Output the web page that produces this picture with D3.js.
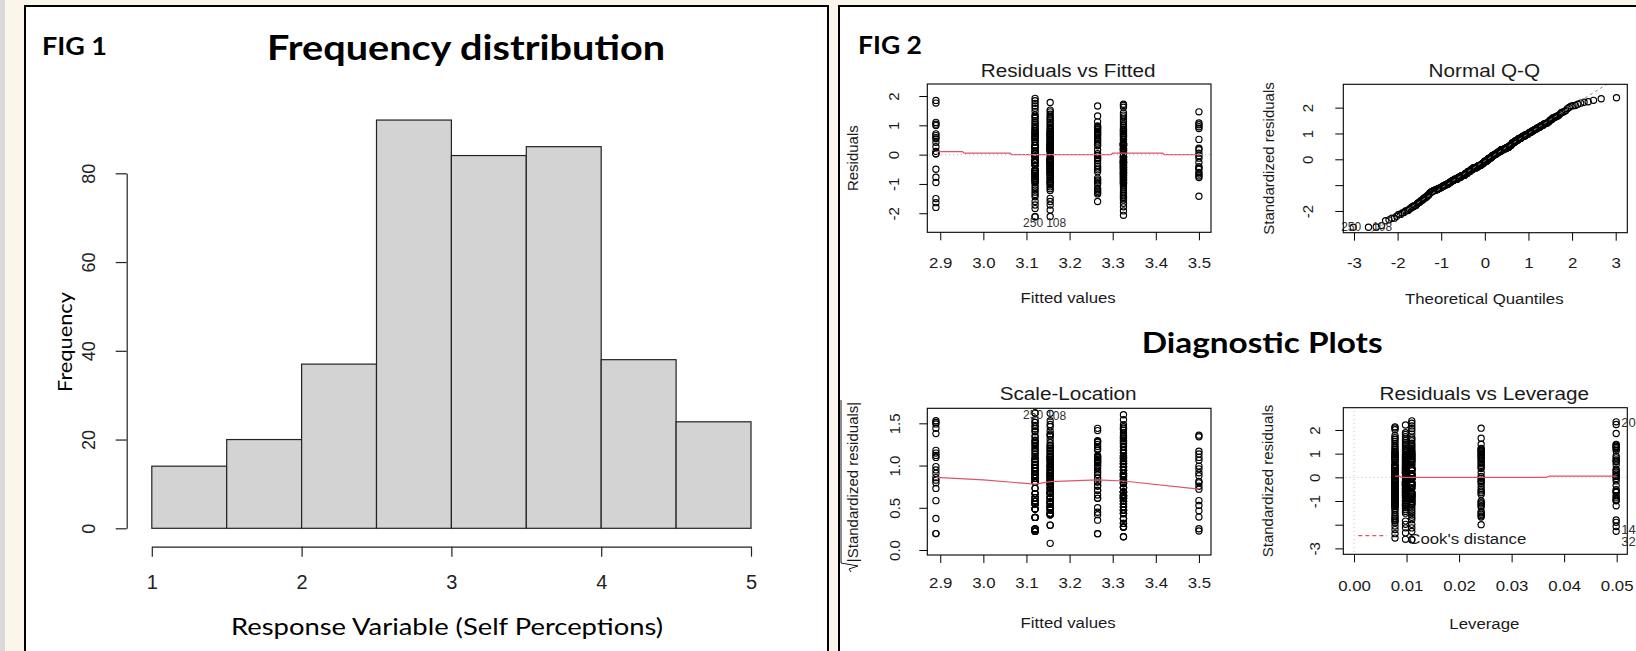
<!DOCTYPE html>
<html><head><meta charset="utf-8">
<script src="https://cdn.jsdelivr.net/npm/d3@7"></script>
<style>html,body{margin:0;padding:0;background:#fbf5ec;}svg{display:block;}</style>
</head><body>
<svg id="c" width="1636" height="651"></svg>
<script>
// ---------------- DATA ----------------
// Fig 1 histogram
const histBreaks = [1, 1.5, 2, 2.5, 3, 3.5, 4, 4.5, 5];
const histCounts = [14, 20, 37, 92, 84, 86, 38, 24];
const histXTicks = [1, 2, 3, 4, 5];
const histYTicks = [0, 20, 40, 60, 80];

// Fig 2 model: group fitted values, leverages, residual standard error
const fitted = [2.89, 3.12, 3.155, 3.265, 3.325, 3.5];
const leverage = [0.0499, 0.0110, 0.0098, 0.0242, 0.0078, 0.0499];
const sigma = 0.81;

// residuals per group as [value, count]
const resid289 = [[1.85,1],[1.76,1],[1.10,1],[1.04,1],[0.99,1],[0.71,1],[0.65,1],[0.58,1],[0.54,1],[0.42,1],[0.27,1],[0.11,1],[0.03,2],[-0.50,1],[-0.77,1],[-0.95,1],[-1.50,1],[-1.64,1],[-1.80,1]];
const resid312 = [[1.92,1],[1.84,1],[1.75,1],[1.66,1],[1.58,1],[1.47,1],[1.35,1],[1.30,1],
  [1.24,1],[1.16,1],[1.10,1],[1.04,1],[0.98,1],[0.92,1],[0.88,1],
  [0.82,2],[0.76,2],[0.70,2],[0.64,2],[0.58,2],[0.52,2],[0.43,2],
  [0.31,3],[0.24,4],[0.12,4],[0.04,5],
  [-0.05,5],[-0.19,4],[-0.27,4],
  [-0.36,3],[-0.52,3],[-0.58,3],[-0.64,3],
  [-0.70,2],[-0.76,2],[-0.82,2],[-0.88,2],[-0.94,2],
  [-1.04,1],[-1.12,1],[-1.20,1],[-1.28,1],[-1.36,1],[-1.44,1],
  [-1.60,1],[-1.72,1],[-1.84,1],[-2.12,2]];
const resid3155 = [[1.78,1],[1.52,1],[1.46,1],[1.38,1],[1.30,1],
  [1.24,1],[1.18,1],[1.12,1],[1.06,1],[1.00,1],[0.94,1],[0.89,1],
  [0.84,1],[0.78,2],[0.72,2],[0.66,2],[0.60,2],[0.54,2],[0.48,2],[0.42,2],
  [0.36,3],[0.30,3],[0.24,3],[0.18,3],[0.14,3],[0.07,1],[0.005,1],
  [-0.07,1],[-0.15,4],[-0.21,4],[-0.26,4],
  [-0.32,2],[-0.38,3],[-0.44,2],[-0.50,3],[-0.56,2],[-0.62,3],
  [-0.68,2],[-0.74,1],[-0.80,2],[-0.86,1],[-0.92,2],[-0.98,2],
  [-1.04,1],[-1.10,1],[-1.16,1],[-1.22,1],[-1.49,1],
  [-1.60,1],[-1.72,1],[-1.89,1],[-2.11,1]];
const resid3265 = [[1.66,1],[1.32,1],[1.12,1],[0.98,1],[0.95,1],[0.92,1],[0.88,1],[0.85,1],[0.80,1],[0.76,1],[0.72,1],[0.68,1],[0.64,1],[0.58,1],[0.52,1],[0.46,1],[0.40,1],[0.34,1],[0.30,1],[0.16,1],[0.03,1],[-0.03,1],[-0.10,1],[-0.14,1],[-0.20,1],[-0.30,1],[-0.40,1],[-0.46,1],[-0.52,1],[-0.58,1],[-0.80,1],[-0.86,1],[-0.90,1],[-0.96,1],[-1.00,1],[-1.15,1],[-1.20,1],[-1.25,1],[-1.30,1],[-1.34,1],[-1.60,1]];
const resid3325 = [[1.72,1],[1.68,1],[1.62,1],[1.42,1],[1.35,1],[1.29,1],
  [1.22,1],[1.14,1],[1.06,1],[1.00,1],[0.94,1],[0.88,1],
  [0.84,2],[0.78,2],[0.72,2],[0.66,2],[0.60,2],[0.52,2],[0.44,1],
  [0.38,5],[0.34,5],[0.30,5],[0.21,4],[0.15,4],[0.08,3],[0.02,2],
  [-0.06,4],[-0.11,4],[-0.18,4],[-0.24,4],[-0.27,4],
  [-0.32,4],[-0.38,4],[-0.44,4],[-0.50,4],[-0.56,4],[-0.62,4],[-0.66,3],
  [-0.72,3],[-0.78,3],[-0.84,3],[-0.90,3],[-0.96,3],[-1.00,2],
  [-1.06,1],[-1.12,1],[-1.20,1],[-1.28,1],[-1.34,1],[-1.40,1],[-1.45,1],[-1.49,1],
  [-1.55,1],[-1.66,1],[-1.78,1],[-1.92,1],[-2.07,1]];
const resid35 = [[1.46,1],[1.08,1],[1.02,1],[0.95,1],[0.89,1],[0.52,1],[0.22,1],[0.17,1],[0.05,1],[-0.04,1],[-0.12,1],[-0.27,1],[-0.41,1],[-0.45,1],[-0.50,1],[-0.61,1],[-0.66,1],[-0.73,1],[-0.78,1],[-1.42,1]];
const residGroups = [resid289, resid312, resid3155, resid3265, resid3325, resid35];

// smoother lines
const rvfSmooth = [[2.89,0.10],[2.952,0.10],[2.956,0.05],[3.062,0.05],[3.066,0.0],[3.296,0.0],[3.300,0.05],[3.416,0.05],[3.420,0.0],[3.50,0.0]];
const slSmooth = [[2.89,0.86],[3.0,0.83],[3.12,0.78],[3.155,0.81],[3.265,0.83],[3.325,0.817],[3.50,0.72]];
const rvlSmooth = [[0.0078,0.055],[0.0086,0.055],[0.0090,0.0],[0.0366,0.0],[0.0372,0.055],[0.0499,0.055]];

// labelled observations
const idLabels = [{label:"250", g:1, r:-2.12, side:"end"}, {label:"108", g:2, r:-2.11, side:"start"}];
const rvlLabels = [{label:"20", lev:0.0499, std:2.33}, {label:"14", lev:0.0499, std:-2.20}, {label:"32", lev:0.0499, std:-2.72}];

// tick values / labels
const fittedTicks = [2.9, 3.0, 3.1, 3.2, 3.3, 3.4, 3.5];
const residTicks = [-2, -1, 0, 1, 2];
const qqXTicks = [-3, -2, -1, 0, 1, 2, 3];
const qqYTicks = [-2, -1, 0, 1, 2];
const qqYLabels = ["-2", "", "0", "1", "2"];
const slYTicks = [0, 0.5, 1, 1.5];
const slYLabels = ["0.0", "0.5", "1.0", "1.5"];
const levTicks = [0, 0.01, 0.02, 0.03, 0.04, 0.05];
const rvlYTicks = [-3, -2, -1, 0, 1, 2];
const rvlYLabels = ["-3", "", "-1", "0", "1", "2"];

// ---------------- DRAWING ----------------
const svg = d3.select("#c");
const R_FONT = "'Liberation Sans', Arial, sans-serif";
const CAL = "Lato, 'Open Sans', sans-serif";
const STRETCH = 1.12;
const RED = "#DF536B";

svg.append("rect").attr("width",1636).attr("height",651).attr("fill","#fbf5ec");
svg.append("rect").attr("width",5).attr("height",651).attr("fill","#d9d9d9");
svg.append("rect").attr("x",25).attr("y",6).attr("width",803).attr("height",700).attr("fill","#fff").attr("stroke","#000").attr("stroke-width",2);
svg.append("rect").attr("x",839).attr("y",6).attr("width",900).attr("height",700).attr("fill","#fff").attr("stroke","#000").attr("stroke-width",2);

function calText(x, y, str, size, weight, len, anchor) {
  return svg.append("text").attr("x",x).attr("y",y).attr("font-family",CAL).attr("font-size",size)
    .attr("font-weight",weight).attr("fill","#000").attr("text-anchor",anchor||"start")
    .attr("textLength",len).attr("lengthAdjust","spacingAndGlyphs").text(str);
}

// ---- Fig 1 ----
calText(42, 55, "FIG 1", 25, 700, 65);
calText(267, 60, "Frequency distribution", 35, 700, 398);
calText(231, 635, "Response Variable (Self Perceptions)", 23, 400, 432);
svg.append("text").attr("transform","translate(71.5,342) rotate(-90)").attr("text-anchor","middle")
  .attr("font-family",CAL).attr("font-size",19).attr("fill","#000")
  .attr("textLength",100).attr("lengthAdjust","spacingAndGlyphs").text("Frequency");

const xH = d3.scaleLinear().domain([1,5]).range([151.8,751]);
const yH = d3.scaleLinear().domain([0,80]).range([528.3,173.3]);
const bins = histCounts.map((c,i)=>({x0:histBreaks[i], x1:histBreaks[i+1], c}));
svg.append("g").selectAll("rect").data(bins).join("rect")
  .attr("x",d=>xH(d.x0)).attr("width",d=>xH(d.x1)-xH(d.x0))
  .attr("y",d=>yH(d.c)).attr("height",d=>yH(0)-yH(d.c))
  .attr("fill","#d3d3d3").attr("stroke","#222").attr("stroke-width",1.2);

const gxH = svg.append("g").attr("transform","translate(0,546.7)")
  .call(d3.axisBottom(xH).tickValues(histXTicks).tickSize(10).tickSizeOuter(0).tickFormat(d=>String(d)));
gxH.selectAll("text").attr("y",35).attr("dy","0.35em").attr("font-size",20).attr("font-family",R_FONT).attr("fill","#222");
const gyH = svg.append("g").attr("transform","translate(126.7,0)")
  .call(d3.axisLeft(yH).tickValues(histYTicks).tickSize(11).tickSizeOuter(0).tickFormat(d=>String(d)));
gyH.selectAll("text").attr("x",0).attr("y",0).attr("dy","0.35em").attr("text-anchor","middle")
  .attr("transform","translate(-38.4,0) rotate(-90)").attr("font-size",18).attr("font-family",R_FONT).attr("fill","#222");
[gxH, gyH].forEach(g => { g.selectAll("path,line").attr("stroke","#222").attr("stroke-width",1.2); });

// ---- Fig 2 ----
calText(858, 54, "FIG 2", 25, 700, 64);
calText(1141.7, 353.3, "Diagnostic Plots", 28, 700, 241);

// derived model quantities (as plot.lm does)
const pts = [];
residGroups.forEach((grp, gi) => grp.forEach(([r, n]) => {
  for (let k = 0; k < n; k++) pts.push({g:gi, fit:fitted[gi], lev:leverage[gi], r});
}));
pts.forEach(p => { p.std = p.r / (sigma * Math.sqrt(1 - p.lev)); p.sl = Math.sqrt(Math.abs(p.std)); });

function qnorm(p) {
  const a=[-3.969683028665376e+01,2.209460984245205e+02,-2.759285104469687e+02,1.383577518672690e+02,-3.066479806614716e+01,2.506628277459239e+00];
  const b=[-5.447609879822406e+01,1.615858368580409e+02,-1.556989798598866e+02,6.680131188771972e+01,-1.328068155288572e+01];
  const c=[-7.784894002430293e-03,-3.223964580411365e-01,-2.400758277161838e+00,-2.549732539343734e+00,4.374664141464968e+00,2.938163982698783e+00];
  const d=[7.784695709041462e-03,3.224671290700398e-01,2.445134137142996e+00,3.754408661907416e+00];
  const pl=0.02425;
  if (p < pl) { const q=Math.sqrt(-2*Math.log(p)); return (((((c[0]*q+c[1])*q+c[2])*q+c[3])*q+c[4])*q+c[5])/((((d[0]*q+d[1])*q+d[2])*q+d[3])*q+1); }
  if (p > 1-pl) { const q=Math.sqrt(-2*Math.log(1-p)); return -(((((c[0]*q+c[1])*q+c[2])*q+c[3])*q+c[4])*q+c[5])/((((d[0]*q+d[1])*q+d[2])*q+d[3])*q+1); }
  const q=p-0.5, r=q*q;
  return (((((a[0]*r+a[1])*r+a[2])*r+a[3])*r+a[4])*r+a[5])*q/(((((b[0]*r+b[1])*r+b[2])*r+b[3])*r+b[4])*r+1);
}
const sorted = pts.slice().sort((a,b)=>a.std-b.std);
sorted.forEach((p,i)=>{ p.q = qnorm((i+0.5)/sorted.length); });

let clipId = 0;
function rText(parent, x, y, str, size, rotate) {
  return parent.append("text")
    .attr("transform", rotate ? `translate(${x},${y}) rotate(-90)` : `translate(${x},${y}) scale(${STRETCH},1)`)
    .attr("text-anchor","middle").attr("dy","0.35em")
    .attr("font-family",R_FONT).attr("font-size",size).attr("fill","#1a1a1a").text(str);
}

function panel(cfg) {
  const g = svg.append("g");
  const x = d3.scaleLinear().domain(cfg.xDom).range([cfg.x0, cfg.x1]);
  const y = d3.scaleLinear().domain(cfg.yDom).range([cfg.y1, cfg.y0]);
  const id = "clip" + (clipId++);
  svg.append("defs").append("clipPath").attr("id",id).append("rect")
    .attr("x",cfg.x0).attr("y",cfg.y0).attr("width",cfg.x1-cfg.x0).attr("height",cfg.y1-cfg.y0);
  const inner = g.append("g").attr("clip-path",`url(#${id})`);
  const gx = g.append("g").attr("transform",`translate(0,${cfg.y1})`)
    .call(d3.axisBottom(x).tickValues(cfg.xTicks).tickSize(8).tickFormat((d,i)=>cfg.xLabels[i]));
  gx.select(".domain").remove();
  gx.selectAll("text").attr("y",null).attr("dy","0.35em")
    .attr("transform",`translate(0,${cfg.xLabOff}) scale(${STRETCH},1)`)
    .attr("font-size",15).attr("font-family",R_FONT).attr("fill","#1a1a1a");
  const gy = g.append("g").attr("transform",`translate(${cfg.x0},0)`)
    .call(d3.axisLeft(y).tickValues(cfg.yTicks).tickSize(8).tickFormat((d,i)=>cfg.yLabels[i]));
  gy.select(".domain").remove();
  gy.selectAll("text").attr("x",0).attr("y",0).attr("dy","0.35em").attr("text-anchor","middle")
    .attr("transform",`translate(${cfg.yLabOff},0) rotate(-90)`)
    .attr("font-size",15).attr("font-family",R_FONT).attr("fill","#1a1a1a");
  [gx, gy].forEach(a => a.selectAll("line").attr("stroke","#000").attr("stroke-width",1));
  const cx = (cfg.x0 + cfg.x1) / 2;
  rText(g, cx - 1, cfg.titleY, cfg.title, 18.5);
  rText(g, cx - 1, cfg.xTitleY, cfg.xTitle, 15);
  if (cfg.yTitle) rText(g, cfg.yTitleX, (cfg.y0 + cfg.y1) / 2, cfg.yTitle, 15, true);
  return {g, inner, x, y, cfg};
}
function box(P) {
  const c = P.cfg;
  P.g.append("rect").attr("x",c.x0).attr("y",c.y0).attr("width",c.x1-c.x0).attr("height",c.y1-c.y0)
    .attr("fill","none").attr("stroke","#000").attr("stroke-width",1.1);
}
function drawPoints(P, fx, fy) {
  P.inner.append("g").selectAll("circle").data(pts).join("circle")
    .attr("cx",d=>P.x(fx(d))).attr("cy",d=>P.y(fy(d))).attr("r",3.1)
    .attr("fill","none").attr("stroke","#000").attr("stroke-width",1.15);
}
function drawLine(P, data, color, dash, width) {
  P.inner.append("path").datum(data)
    .attr("d", d3.line().x(d=>P.x(d[0])).y(d=>P.y(d[1])))
    .attr("fill","none").attr("stroke",color).attr("stroke-width",width||1.2)
    .attr("stroke-dasharray",dash||null);
}
function idText(P, px, py, l, dy) {
  const off = l.side === "end" ? 8 : -4;
  P.g.append("text").attr("x",P.x(px)+off).attr("y",P.y(py)+dy).attr("dy","0.35em").attr("text-anchor",l.side)
    .attr("font-family",R_FONT).attr("font-size",12).attr("fill","#333").text(l.label);
}
function findPt(l) { return pts.find(p => p.g === l.g && p.r === l.r); }

// Residuals vs Fitted
const P1 = panel({x0:927.3, x1:1211, y0:84, y1:232.3, xDom:[2.87,3.528], yDom:[-2.65,2.41],
  xTicks:fittedTicks, xLabels:fittedTicks.map(d=>d.toFixed(1)), xLabOff:30.7,
  yTicks:residTicks, yLabels:residTicks.map(String), yLabOff:-34,
  title:"Residuals vs Fitted", titleY:71, xTitle:"Fitted values", xTitleY:298,
  yTitle:"Residuals", yTitleX:853});
drawPoints(P1, d=>d.fit, d=>d.r);
drawLine(P1, rvfSmooth, RED);
drawLine(P1, [[2.8,0],[3.6,0]], "#BEBEBE", "1,3");
idLabels.forEach(l => { const p = findPt(l); idText(P1, p.fit, p.r, {side:l.side, label:l.label}, 6); });
box(P1);

// Normal Q-Q
const P2 = panel({x0:1343.3, x1:1627.3, y0:84.3, y1:232.7, xDom:[-3.245,3.266], yDom:[-2.842,2.904],
  xTicks:qqXTicks, xLabels:qqXTicks.map(String), xLabOff:30.3,
  yTicks:qqYTicks, yLabels:qqYLabels, yLabOff:-36,
  title:"Normal Q-Q", titleY:71, xTitle:"Theoretical Quantiles", xTitleY:299,
  yTitle:"Standardized residuals", yTitleX:1269});
drawPoints(P2, d=>d.q, d=>d.std);
{
  const stdVals = sorted.map(p=>p.std);
  const y1 = d3.quantile(stdVals, 0.25), y2 = d3.quantile(stdVals, 0.75);
  const x1 = qnorm(0.25), x2 = qnorm(0.75);
  const slope = (y2-y1)/(x2-x1), icpt = y1 - slope*x1;
  drawLine(P2, [[-4, icpt-4*slope],[4, icpt+4*slope]], "#8a8a8a", "3,3", 1);
}
idLabels.forEach(l => { const p = findPt(l); idText(P2, p.q, p.std, {side:l.side, label:l.label}, 0); });
box(P2);

// Scale-Location
const P3 = panel({x0:927.3, x1:1211, y0:408.3, y1:555, xDom:[2.87,3.528], yDom:[-0.059,1.678],
  xTicks:fittedTicks, xLabels:fittedTicks.map(d=>d.toFixed(1)), xLabOff:28,
  yTicks:slYTicks, yLabels:slYLabels, yLabOff:-33,
  title:"Scale-Location", titleY:394, xTitle:"Fitted values", xTitleY:623});
drawPoints(P3, d=>d.fit, d=>d.sl);
drawLine(P3, slSmooth, RED);
idLabels.forEach(l => { const p = findPt(l); idText(P3, p.fit, p.sl, {side:l.side, label:l.label}, 2); });
box(P3);
{
  const g = P3.g.append("g").attr("transform","translate(853,482) rotate(-90)");
  g.append("text").attr("text-anchor","middle").attr("dy","0.35em").attr("font-family",R_FONT)
    .attr("font-size",15).attr("fill","#1a1a1a").text("|Standardized residuals|");
  g.append("path").attr("d","M-90,-2 L-87,-4 L-84,5 L-81,-12 L82,-12")
    .attr("fill","none").attr("stroke","#1a1a1a").attr("stroke-width",1);
}

// Residuals vs Leverage
const P4 = panel({x0:1343.3, x1:1627.3, y0:407.7, y1:554.3, xDom:[-0.00204,0.05202], yDom:[-3.25,2.94],
  xTicks:levTicks, xLabels:levTicks.map(d=>d.toFixed(2)), xLabOff:31.7,
  yTicks:rvlYTicks, yLabels:rvlYLabels, yLabOff:-29,
  title:"Residuals vs Leverage", titleY:394, xTitle:"Leverage", xTitleY:624,
  yTitle:"Standardized residuals", yTitleX:1268});
drawLine(P4, [[-0.01,0],[0.06,0]], "#BEBEBE", "1,3", 1);
drawLine(P4, [[0,-4],[0,4]], "#BEBEBE", "1,3", 1);
drawPoints(P4, d=>d.lev, d=>d.std);
drawLine(P4, rvlSmooth, RED);
box(P4);
rvlLabels.forEach(l => {
  P4.g.append("text").attr("x",P4.x(l.lev)+5).attr("y",P4.y(l.std)).attr("dy","0.35em")
    .attr("font-family",R_FONT).attr("font-size",13).attr("fill","#333").text(l.label);
});
// legend
P4.g.append("line").attr("x1",1358.3).attr("x2",1386.7).attr("y1",535.7).attr("y2",535.7)
  .attr("stroke",RED).attr("stroke-width",1.2).attr("stroke-dasharray","4,3");
P4.g.append("text").attr("transform",`translate(1408.3,538.3) scale(${STRETCH},1)`).attr("dy","0.35em")
  .attr("font-family",R_FONT).attr("font-size",15).attr("fill","#1a1a1a").text("Cook's distance");
</script>
</body></html>
